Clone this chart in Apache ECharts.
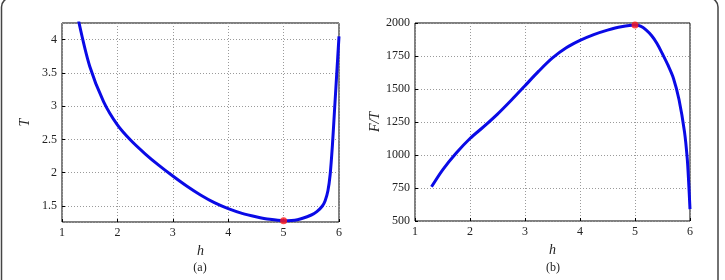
<html>
<head>
    <meta charset="utf-8">
    <title>ECharts</title>
    <script src="https://cdn.jsdelivr.net/npm/echarts@6/dist/echarts.min.js"></script>
    <script type="text/javascript">
        // (a) T against h
        var hA = [1.3, 1.5, 1.75, 2, 2.25, 2.5, 2.75, 3, 3.25, 3.5, 3.75, 4, 4.25, 4.5, 4.75, 5, 5.25, 5.5, 5.6, 5.7, 5.75, 5.8, 5.84, 5.88, 5.92, 5.96, 6];
        var tA = [4.28, 3.6, 3.07, 2.72, 2.48, 2.285, 2.11, 1.95, 1.8, 1.665, 1.55, 1.46, 1.39, 1.34, 1.3, 1.28, 1.295, 1.365, 1.415, 1.5, 1.58, 1.73, 1.97, 2.4, 2.95, 3.5, 4.05];
        var bestA = [5, 1.28];
        // (b) F/T against h
        var hB = [1.3, 1.5, 1.75, 2, 2.25, 2.5, 2.75, 3, 3.25, 3.5, 3.75, 4, 4.25, 4.5, 4.75, 5, 5.1, 5.2, 5.3, 5.4, 5.5, 5.6, 5.7, 5.8, 5.9, 5.95, 5.975, 6];
        var ftB = [759, 886, 1015, 1125, 1215, 1310, 1415, 1525, 1635, 1735, 1812, 1868, 1912, 1946, 1972, 1985, 1976, 1948, 1905, 1845, 1765, 1680, 1580, 1420, 1175, 972, 800, 590];
        var bestB = [5, 1985];
        var hTicks = [1, 2, 3, 4, 5, 6];
    </script>
</head>
<body style="margin:0;background:#fff">
    <div id="main" style="width: 725px;height:280px;"></div>
    <script type="text/javascript">
        var myChart = echarts.init(document.getElementById('main'));
        var serif = 'Liberation Serif';

        function pairs(xs, ys) {
            var out = [];
            for (var i = 0; i < xs.length; i++) {
                out.push([xs[i], ys[i]]);
            }
            return out;
        }

        var xBase = {
            type: 'value', min: hTicks[0], max: hTicks[hTicks.length - 1], interval: 1,
            nameLocation: 'middle', nameGap: 13,
            nameTextStyle: { fontFamily: serif, fontStyle: 'italic', fontSize: 14, color: '#222' },
            axisLine: { show: false },
            axisTick: { show: true, inside: true, length: 3, lineStyle: { color: '#000' } },
            axisLabel: { fontFamily: serif, fontSize: 12, color: '#222', margin: 5 },
            splitLine: { show: true, lineStyle: { color: '#9a9a9a', type: [1, 2], width: 1 } }
        };
        var yBase = {
            type: 'value', nameLocation: 'middle',
            nameTextStyle: { fontFamily: serif, fontStyle: 'italic', fontSize: 14, color: '#222' },
            axisLine: { show: false },
            axisTick: { show: true, inside: true, length: 3, lineStyle: { color: '#000' } },
            axisLabel: { fontFamily: serif, fontSize: 12, color: '#222', margin: 5,
                         formatter: function (v) { return String(v); } },
            splitLine: { show: true, lineStyle: { color: '#9a9a9a', type: [1, 2], width: 1 } }
        };

        var lineCommon = { showSymbol: false, smooth: 0.3, clip: true,
                           lineStyle: { color: '#0a0ae6', width: 3 } };

        var option = {
            animation: false,
            backgroundColor: '#fff',
            grid: [
                { left: 62, top: 23, width: 277, height: 199, show: true, borderColor: '#000', borderWidth: 1 },
                { left: 415, top: 23, width: 275, height: 198, show: true, borderColor: '#000', borderWidth: 1 }
            ],
            xAxis: [
                Object.assign({}, xBase, { gridIndex: 0, name: 'h' }),
                Object.assign({}, xBase, { gridIndex: 1, name: 'h' })
            ],
            yAxis: [
                Object.assign({}, yBase, {
                    gridIndex: 0, name: 'T', nameGap: 30, min: 1.26, max: 4.25,
                    axisLabel: Object.assign({}, yBase.axisLabel, { showMinLabel: false, showMaxLabel: false })
                }),
                Object.assign({}, yBase, {
                    gridIndex: 1, name: 'F/T', nameGap: 33, min: 500, max: 2000, interval: 250
                })
            ],
            graphic: [
                { type: 'rect', shape: { x: 1.5, y: -2, width: 716.5, height: 400, r: 9 },
                  style: { fill: 'none', stroke: '#444', lineWidth: 1.5 }, silent: true },
                { type: 'text', x: 200, y: 268, style: { text: '(a)', font: '12px "Liberation Serif"', fill: '#222', align: 'center', verticalAlign: 'middle' } },
                { type: 'text', x: 553, y: 268, style: { text: '(b)', font: '12px "Liberation Serif"', fill: '#222', align: 'center', verticalAlign: 'middle' } }
            ],
            series: [
                Object.assign({ type: 'line', xAxisIndex: 0, yAxisIndex: 0, data: pairs(hA, tA) }, lineCommon),
                { type: 'scatter', xAxisIndex: 0, yAxisIndex: 0, data: [bestA], symbolSize: 7,
                  itemStyle: { color: '#ff1a1a' }, z: 5 },
                Object.assign({ type: 'line', xAxisIndex: 1, yAxisIndex: 1, data: pairs(hB, ftB) }, lineCommon),
                { type: 'scatter', xAxisIndex: 1, yAxisIndex: 1, data: [bestB], symbolSize: 7,
                  itemStyle: { color: '#ff1a1a' }, z: 5 }
            ]
        };
        myChart.setOption(option);
    </script>
</body>
</html>
